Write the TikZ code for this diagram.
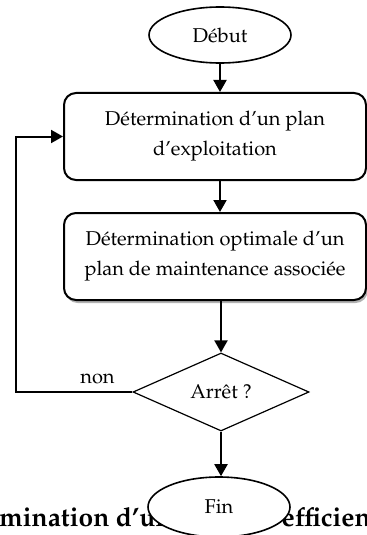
\documentclass[tikz,border=0pt]{standalone}
\usepackage[T1]{fontenc}
\usepackage{mathpazo}
\usetikzlibrary{arrows.meta,shapes.geometric,shadows}
\tikzstyle{connector} = [line width=1pt,-{Triangle[length=6pt,width=6.5pt]}]
\tikzstyle{terminal} = [ellipse, draw, fill=white, line width=0.8pt, minimum width=71pt, minimum height=28pt, inner sep=0pt]
\tikzstyle{process} = [rectangle, rounded corners=6pt, draw, fill=white, line width=1pt, minimum width=151pt, minimum height=43.5pt, align=center]
\tikzstyle{decision} = [diamond, draw, line width=0.6pt, minimum width=88pt, minimum height=39pt, inner sep=0pt]

\begin{document}
\begin{tikzpicture}[x=1pt,y=1pt,every node/.style={font=\fontsize{10}{15}\selectfont}]
        \useasboundingbox (0,0) rectangle (183.5,-267.5);
        \node (caption) [anchor=base west, inner sep=0pt, font=\fontsize{13.2}{15}\selectfont\bfseries] at (-0.5,-263) {mination d'un\hspace*{55pt}efficien};
        \node (debut) [terminal] at (110,-17.5) {Début};
        \node (plan-exploit) [process, below of=debut, node distance=50.75pt, xshift=-2.5pt] {Détermination d'un plan\\d'exploitation};
        \node (plan-maint) [process, below of=plan-exploit, node distance=60pt, drop shadow={shadow xshift=0.8pt, shadow yshift=-1.5pt, fill=gray!60, opacity=1}] {Détermination optimale d'un\\plan de maintenance associée};
        \node (arret) [decision, below of=plan-maint, node distance=67.75pt, xshift=3pt] {Arrêt ?};
        \node (fin) [terminal, below of=arret, node distance=57.5pt, xshift=-1pt, minimum height=30pt] {Fin};
        \coordinate (loop) at (8,0);
        \draw [connector] (debut.south) -- (debut.south |- plan-exploit.north);
        \draw [connector] (plan-exploit.south -| debut) -- (plan-maint.north -| debut);
        \draw [connector] (plan-maint.south -| arret.north) -- (arret.north);
        \draw [connector] (arret.south) -- (arret.south |- fin.north);
        \draw [connector] (arret.west) -- node[above, pos=0.3] {non} (arret.west -| loop) |- (plan-exploit.west);
    \end{tikzpicture}
\end{document}
